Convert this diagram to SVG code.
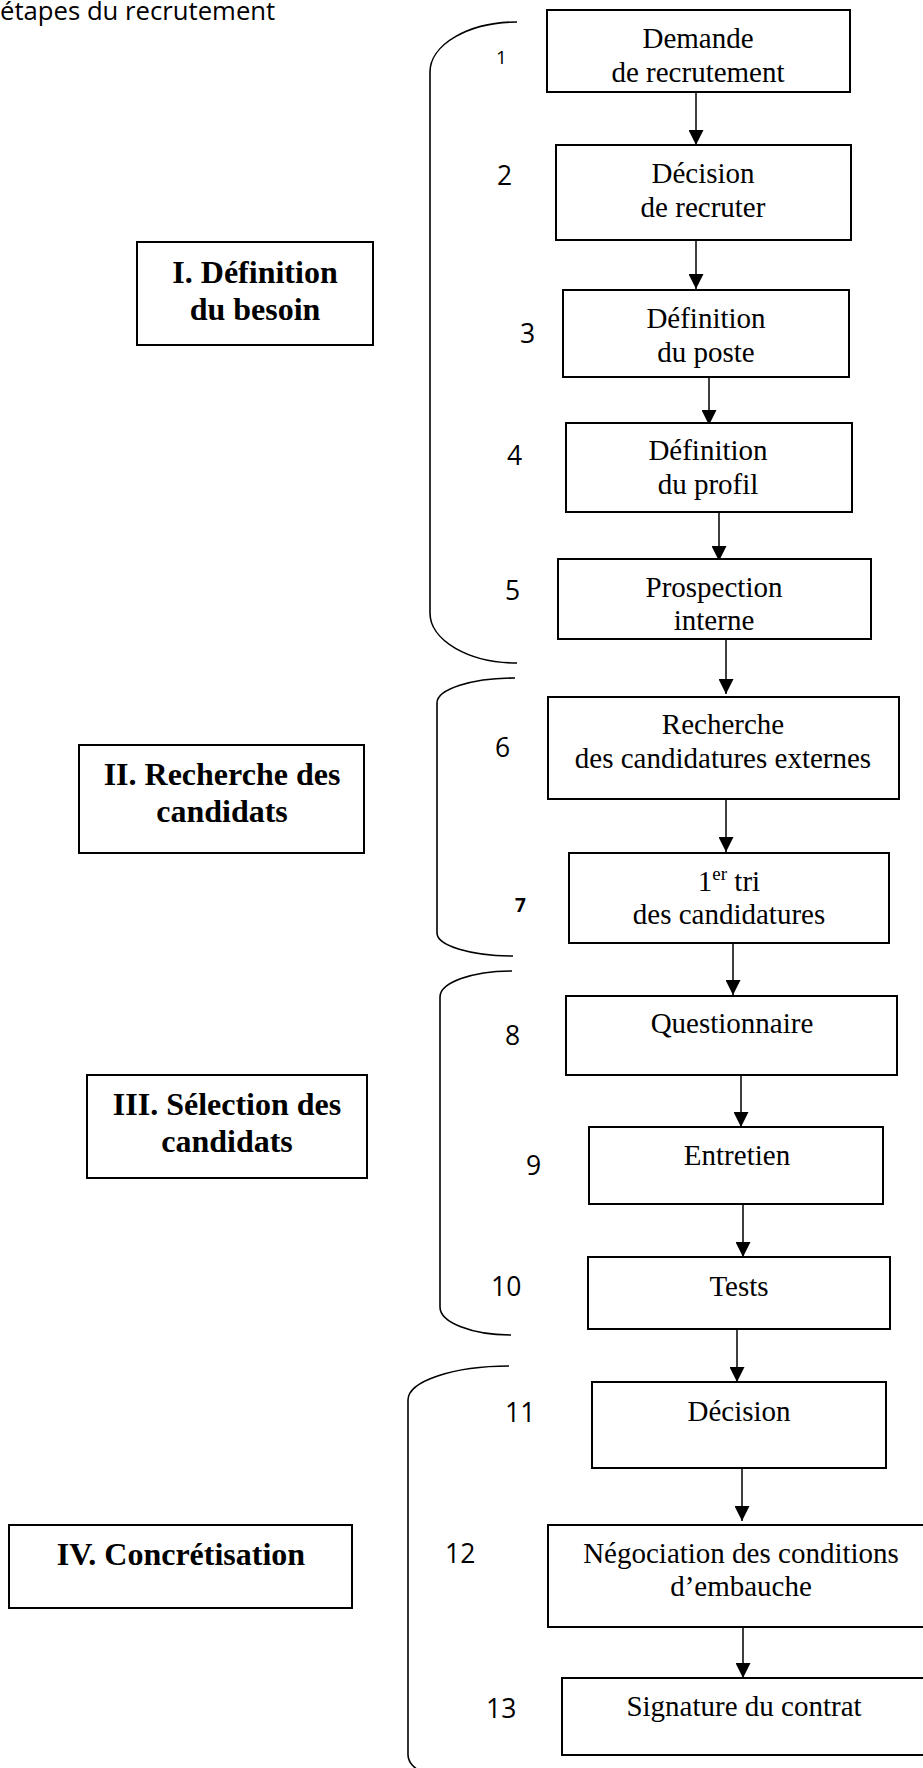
<svg xmlns="http://www.w3.org/2000/svg" width="923" height="1768" viewBox="0 0 923 1768">
<style>
.box{fill:#fff;stroke:#000;stroke-width:2}
.t{font-family:"Liberation Serif","Times New Roman",serif;font-size:29px;fill:#000;text-anchor:middle}
.b{font-family:"Liberation Serif","Times New Roman",serif;font-size:32px;font-weight:bold;fill:#000;text-anchor:middle}
.n{font-family:"Open Sans","Liberation Sans",sans-serif;font-size:26.5px;fill:#000}
.ns{font-family:"Open Sans","Liberation Sans",sans-serif;font-size:19px;fill:#000}
.title{font-family:"Open Sans","Liberation Sans",sans-serif;font-size:25.7px;fill:#000}
.c{fill:none;stroke:#000;stroke-width:1.5}
.br{fill:none;stroke:#000;stroke-width:1.6}
</style>
<defs>
<marker id="ah" markerUnits="userSpaceOnUse" markerWidth="15" markerHeight="15" refX="15" refY="7.5" orient="auto" viewBox="0 0 15 15">
<path d="M0,0 L15,7.5 L0,15 z" fill="#000"/>
</marker>
</defs>
<rect width="923" height="1768" fill="#fff"/>
<text class="title" x="0" y="20">étapes du recrutement</text>

<g id="braces">
<path class="br" d="M517,22 A87,50 0 0 0 430,72 L430,613 A87,50 0 0 0 517,663"/>
<path class="br" d="M515,678 A78,25 0 0 0 437,703 L437,933 A76,23 0 0 0 513,956"/>
<path class="br" d="M512,971 A72,26 0 0 0 440,997 L440,1307 A71,28 0 0 0 511,1335"/>
<path class="br" d="M509,1366 A101,34 0 0 0 408,1400 L408,1755 A101,34 0 0 0 509,1789"/>
</g>

<g id="phase-1"><rect class="box" x="137" y="242" width="236" height="103"/><text class="b" x="255" y="283">I. Définition</text><text class="b" x="255" y="320">du besoin</text></g>
<g id="phase-2"><rect class="box" x="79" y="745" width="285" height="108"/><text class="b" x="222" y="785">II. Recherche des</text><text class="b" x="222" y="822">candidats</text></g>
<g id="phase-3"><rect class="box" x="87" y="1075" width="280" height="103"/><text class="b" x="227" y="1115">III. Sélection des</text><text class="b" x="227" y="1152">candidats</text></g>
<g id="phase-4"><rect class="box" x="9" y="1525" width="343" height="83"/><text class="b" x="181" y="1565">IV. Concrétisation</text></g>

<g id="connectors">
<line class="c" x1="696" y1="92" x2="696" y2="145" marker-end="url(#ah)"/>
<line class="c" x1="696" y1="236" x2="696" y2="289" marker-end="url(#ah)"/>
<line class="c" x1="709" y1="373" x2="709" y2="425" marker-end="url(#ah)"/>
<line class="c" x1="719" y1="508" x2="719" y2="561" marker-end="url(#ah)"/>
<line class="c" x1="726" y1="640" x2="726" y2="694" marker-end="url(#ah)"/>
<line class="c" x1="726" y1="799" x2="726" y2="852" marker-end="url(#ah)"/>
<line class="c" x1="733" y1="943" x2="733" y2="995" marker-end="url(#ah)"/>
<line class="c" x1="741" y1="1075" x2="741" y2="1127" marker-end="url(#ah)"/>
<line class="c" x1="743" y1="1204" x2="743" y2="1257" marker-end="url(#ah)"/>
<line class="c" x1="737" y1="1329" x2="737" y2="1382" marker-end="url(#ah)"/>
<line class="c" x1="742" y1="1468" x2="742" y2="1521" marker-end="url(#ah)"/>
<line class="c" x1="743" y1="1627" x2="743" y2="1678" marker-end="url(#ah)"/>
</g>

<g id="step-1"><rect class="box" x="547" y="10" width="303" height="82"/><text class="t" x="698" y="48">Demande</text><text class="t" x="698" y="82">de recrutement</text><text class="ns" x="496" y="64">1</text></g>
<g id="step-2"><rect class="box" x="556" y="145" width="295" height="95"/><text class="t" x="703" y="183">Décision</text><text class="t" x="703" y="217">de recruter</text><text class="n" x="497" y="185">2</text></g>
<g id="step-3"><rect class="box" x="563" y="290" width="286" height="87"/><text class="t" x="706" y="328">Définition</text><text class="t" x="706" y="362">du poste</text><text class="n" x="520" y="343">3</text></g>
<g id="step-4"><rect class="box" x="566" y="423" width="286" height="89"/><text class="t" x="708" y="460">Définition</text><text class="t" x="708" y="494">du profil</text><text class="n" x="507" y="465">4</text></g>
<g id="step-5"><rect class="box" x="558" y="559" width="313" height="80"/><text class="t" x="714" y="597">Prospection</text><text class="t" x="714" y="630">interne</text><text class="n" x="505" y="600">5</text></g>
<g id="step-6"><rect class="box" x="548" y="697" width="351" height="102"/><text class="t" x="723" y="734">Recherche</text><text class="t" x="723" y="768">des candidatures externes</text><text class="n" x="495" y="757">6</text></g>
<g id="step-7"><rect class="box" x="569" y="853" width="320" height="90"/><text class="t" x="729" y="891">1<tspan font-size="19" dy="-11">er</tspan><tspan dy="11"> tri</tspan></text><text class="t" x="729" y="924">des candidatures</text><text class="ns" x="515" y="912" font-weight="bold">7</text></g>
<g id="step-8"><rect class="box" x="566" y="996" width="331" height="79"/><text class="t" x="732" y="1033">Questionnaire</text><text class="n" x="505" y="1045">8</text></g>
<g id="step-9"><rect class="box" x="589" y="1127" width="294" height="77"/><text class="t" x="737" y="1165">Entretien</text><text class="n" x="526" y="1175">9</text></g>
<g id="step-10"><rect class="box" x="588" y="1257" width="302" height="72"/><text class="t" x="739" y="1296">Tests</text><text class="n" x="491" y="1296">10</text></g>
<g id="step-11"><rect class="box" x="592" y="1382" width="294" height="86"/><text class="t" x="739" y="1421">Décision</text><text class="n" x="505" y="1422">11</text></g>
<g id="step-12"><rect class="box" x="548" y="1525" width="387" height="102"/><text class="t" x="741" y="1563">Négociation des conditions</text><text class="t" x="741" y="1596">d’embauche</text><text class="n" x="445" y="1563">12</text></g>
<g id="step-13"><rect class="box" x="562" y="1678" width="364" height="77"/><text class="t" x="744" y="1716">Signature du contrat</text><text class="n" x="486" y="1718">13</text></g>
</svg>
